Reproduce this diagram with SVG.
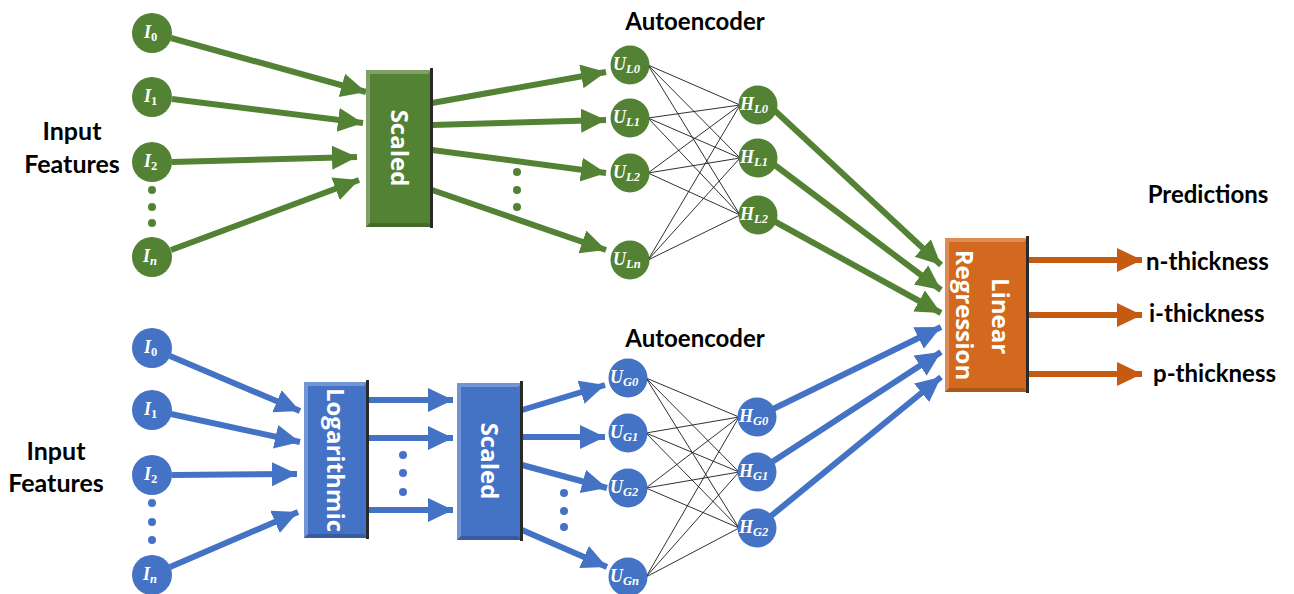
<svg xmlns="http://www.w3.org/2000/svg" width="1294" height="594" viewBox="0 0 1294 594">
  <style>
    .lbl { font-family: Lato, "Open Sans", "Liberation Sans", sans-serif; font-weight: bold; fill: #000; }
    .box-txt { font-family: "Open Sans", "Liberation Sans", sans-serif; font-weight: bold; fill: #fff; font-size: 24px; }
    .nd { font-family: "Liberation Serif", "DejaVu Serif", serif; font-weight: bold; font-style: italic; fill: #fff; font-size: 18px; }
    .nd tspan.s { font-size: 12.5px; }
    .nd tspan.u { font-style: normal; }
    .g { fill: #548235; }
    .b { fill: #4472C4; }
    .ga { stroke: #548235; stroke-width: 6; fill: none; marker-end: url(#ah-g); }
    .ba { stroke: #4472C4; stroke-width: 6; fill: none; marker-end: url(#ah-b); }
    .oa { stroke: #C55A11; stroke-width: 6; fill: none; marker-end: url(#ah-o); }
    .mesh { stroke: #1a1a1a; stroke-width: 0.9; fill: none; }
    .hi { fill: #ffffff; fill-opacity: 0.25; }
    .lo { fill: #000000; fill-opacity: 0.18; }
    .edge { fill: #2a2a2a; }
  </style>
  <defs>
    <marker id="ah-g" markerUnits="userSpaceOnUse" markerWidth="28" markerHeight="26" refX="25" refY="12" orient="auto">
      <path d="M0,0 L25,12 L0,24 Z" fill="#548235"/>
    </marker>
    <marker id="ah-b" markerUnits="userSpaceOnUse" markerWidth="28" markerHeight="26" refX="25" refY="12" orient="auto">
      <path d="M0,0 L25,12 L0,24 Z" fill="#4472C4"/>
    </marker>
    <marker id="ah-o" markerUnits="userSpaceOnUse" markerWidth="28" markerHeight="26" refX="25" refY="12" orient="auto">
      <path d="M0,0 L25,12 L0,24 Z" fill="#C55A11"/>
    </marker>
  </defs>

  <rect width="1294" height="594" fill="#ffffff"/>

  <!-- text labels -->
  <g id="labels">
    <text class="lbl" x="72" y="140" font-size="25" text-anchor="middle">Input</text>
    <text class="lbl" x="72" y="173" font-size="25" text-anchor="middle">Features</text>
    <text class="lbl" x="56" y="460" font-size="25" text-anchor="middle">Input</text>
    <text class="lbl" x="56" y="492" font-size="25" text-anchor="middle">Features</text>
    <text class="lbl" x="695" y="30" font-size="24" text-anchor="middle">Autoencoder</text>
    <text class="lbl" x="695" y="347" font-size="24" text-anchor="middle">Autoencoder</text>
    <text class="lbl" x="1208" y="203" font-size="24" text-anchor="middle">Predictions</text>
    <text class="lbl" x="1146" y="270" font-size="24">n-thickness</text>
    <text class="lbl" x="1149" y="322" font-size="24">i-thickness</text>
    <text class="lbl" x="1153" y="382" font-size="24">p-thickness</text>
  </g>

  <!-- connectors -->
  <g id="connectors">
    <!-- upper branch: inputs to Scaled -->
    <line class="ga" x1="171" y1="38" x2="366" y2="92"/>
    <line class="ga" x1="172" y1="99" x2="363" y2="123"/>
    <line class="ga" x1="172" y1="162" x2="357" y2="157"/>
    <line class="ga" x1="171" y1="250" x2="359" y2="180"/>
    <!-- Scaled to autoencoder inputs -->
    <line class="ga" x1="432" y1="103" x2="606" y2="72"/>
    <line class="ga" x1="432" y1="125" x2="606" y2="120"/>
    <line class="ga" x1="432" y1="150" x2="606" y2="173"/>
    <line class="ga" x1="432" y1="190" x2="606" y2="250"/>
    <!-- upper autoencoder weights -->
    <g class="mesh">
      <line x1="648" y1="65" x2="740" y2="105"/><line x1="648" y1="65" x2="740" y2="158"/><line x1="648" y1="65" x2="740" y2="215"/>
      <line x1="648" y1="118" x2="740" y2="105"/><line x1="648" y1="118" x2="740" y2="158"/><line x1="648" y1="118" x2="740" y2="215"/>
      <line x1="648" y1="173" x2="740" y2="105"/><line x1="648" y1="173" x2="740" y2="158"/><line x1="648" y1="173" x2="740" y2="215"/>
      <line x1="648" y1="260" x2="740" y2="105"/><line x1="648" y1="260" x2="740" y2="158"/><line x1="648" y1="260" x2="740" y2="215"/>
    </g>
    <!-- upper hidden to regression -->
    <line class="ga" x1="772" y1="108" x2="941" y2="265"/>
    <line class="ga" x1="772" y1="163" x2="941" y2="290"/>
    <line class="ga" x1="772" y1="220" x2="941" y2="313"/>

    <!-- lower branch: inputs to Logarithmic -->
    <line class="ba" x1="170" y1="356" x2="300" y2="411"/>
    <line class="ba" x1="171" y1="414" x2="300" y2="442"/>
    <line class="ba" x1="172" y1="475" x2="297" y2="474"/>
    <line class="ba" x1="170" y1="567" x2="298" y2="512"/>
    <!-- Logarithmic to Scaled -->
    <line class="ba" x1="368" y1="400" x2="453" y2="400"/>
    <line class="ba" x1="368" y1="438" x2="453" y2="438"/>
    <line class="ba" x1="368" y1="510" x2="453" y2="510"/>
    <!-- Scaled to autoencoder inputs -->
    <line class="ba" x1="522" y1="410" x2="605" y2="385"/>
    <line class="ba" x1="522" y1="437" x2="605" y2="437"/>
    <line class="ba" x1="522" y1="465" x2="607" y2="488"/>
    <line class="ba" x1="522" y1="530" x2="607" y2="567"/>
    <!-- lower autoencoder weights -->
    <g class="mesh">
      <line x1="646" y1="378" x2="739" y2="417"/><line x1="646" y1="378" x2="739" y2="472"/><line x1="646" y1="378" x2="739" y2="528"/>
      <line x1="646" y1="433" x2="739" y2="417"/><line x1="646" y1="433" x2="739" y2="472"/><line x1="646" y1="433" x2="739" y2="528"/>
      <line x1="646" y1="488" x2="739" y2="417"/><line x1="646" y1="488" x2="739" y2="472"/><line x1="646" y1="488" x2="739" y2="528"/>
      <line x1="646" y1="577" x2="739" y2="417"/><line x1="646" y1="577" x2="739" y2="472"/><line x1="646" y1="577" x2="739" y2="528"/>
    </g>
    <!-- lower hidden to regression -->
    <line class="ba" x1="773" y1="409" x2="941" y2="327"/>
    <line class="ba" x1="772" y1="462" x2="941" y2="352"/>
    <line class="ba" x1="771" y1="516" x2="941" y2="377"/>

    <!-- regression outputs -->
    <line class="oa" x1="1028" y1="260" x2="1142" y2="260"/>
    <line class="oa" x1="1028" y1="315" x2="1142" y2="315"/>
    <line class="oa" x1="1028" y1="374" x2="1142" y2="374"/>
  </g>

  <!-- ellipsis dots -->
  <g id="dots">
    <circle class="g" cx="152" cy="190" r="4"/><circle class="g" cx="152" cy="207" r="4"/><circle class="g" cx="152" cy="223" r="4"/>
    <circle class="g" cx="517" cy="172" r="4"/><circle class="g" cx="517" cy="190" r="4"/><circle class="g" cx="517" cy="207" r="4"/>
    <circle class="b" cx="152" cy="503" r="4"/><circle class="b" cx="152" cy="522" r="4"/><circle class="b" cx="152" cy="540" r="4"/>
    <circle class="b" cx="403" cy="455" r="4"/><circle class="b" cx="403" cy="473" r="4"/><circle class="b" cx="403" cy="492" r="4"/>
    <circle class="b" cx="564" cy="493" r="4"/><circle class="b" cx="564" cy="511" r="4"/><circle class="b" cx="564" cy="527" r="4"/>
  </g>

  <!-- upper input nodes -->
  <g id="gI0"><circle class="g" cx="152" cy="33" r="20"/><text class="nd" x="144" y="38">I<tspan class="s u" dy="3">0</tspan></text></g>
  <g id="gI1"><circle class="g" cx="152" cy="97" r="20"/><text class="nd" x="144" y="102">I<tspan class="s u" dy="3">1</tspan></text></g>
  <g id="gI2"><circle class="g" cx="152" cy="162" r="20"/><text class="nd" x="144" y="167">I<tspan class="s u" dy="3">2</tspan></text></g>
  <g id="gIn"><circle class="g" cx="152" cy="257" r="20"/><text class="nd" x="143" y="262">I<tspan class="s" dy="3">n</tspan></text></g>

  <!-- upper Scaled block -->
  <g id="scaled-top">
    <rect x="366" y="70" width="66" height="157" fill="#548235"/>
    <polygon class="hi" points="366,70 432,70 428,74 370,74"/>
    <polygon class="hi" points="366,70 370,74 370,223 366,227"/>
    <polygon class="lo" points="366,227 370,223 428,223 432,227"/>
    <rect class="edge" x="430" y="68" width="3" height="160"/>
    <text class="box-txt" transform="translate(399,148) rotate(90)" text-anchor="middle" dy="8">Scaled</text>
  </g>

  <!-- upper autoencoder input nodes -->
  <g id="gUL0"><circle class="g" cx="630" cy="65" r="19.5"/><text class="nd" x="613" y="70">U<tspan class="s" dy="3">L0</tspan></text></g>
  <g id="gUL1"><circle class="g" cx="630" cy="118" r="19.5"/><text class="nd" x="613" y="123">U<tspan class="s" dy="3">L1</tspan></text></g>
  <g id="gUL2"><circle class="g" cx="630" cy="173" r="19.5"/><text class="nd" x="613" y="178">U<tspan class="s" dy="3">L2</tspan></text></g>
  <g id="gULn"><circle class="g" cx="630" cy="260" r="19.5"/><text class="nd" x="613" y="265">U<tspan class="s" dy="3">Ln</tspan></text></g>

  <!-- upper hidden nodes -->
  <g id="gHL0"><circle class="g" cx="758" cy="105" r="19.5"/><text class="nd" x="740" y="110">H<tspan class="s" dy="3">L0</tspan></text></g>
  <g id="gHL1"><circle class="g" cx="758" cy="158" r="19.5"/><text class="nd" x="740" y="163">H<tspan class="s" dy="3">L1</tspan></text></g>
  <g id="gHL2"><circle class="g" cx="758" cy="215" r="19.5"/><text class="nd" x="740" y="220">H<tspan class="s" dy="3">L2</tspan></text></g>

  <!-- lower input nodes -->
  <g id="bI0"><circle class="b" cx="152" cy="348" r="20"/><text class="nd" x="144" y="353">I<tspan class="s u" dy="3">0</tspan></text></g>
  <g id="bI1"><circle class="b" cx="152" cy="410" r="20"/><text class="nd" x="144" y="415">I<tspan class="s u" dy="3">1</tspan></text></g>
  <g id="bI2"><circle class="b" cx="152" cy="475" r="20"/><text class="nd" x="144" y="480">I<tspan class="s u" dy="3">2</tspan></text></g>
  <g id="bIn"><circle class="b" cx="152" cy="575" r="20"/><text class="nd" x="143" y="580">I<tspan class="s" dy="3">n</tspan></text></g>

  <!-- Logarithmic block -->
  <g id="log">
    <rect x="304" y="382" width="64" height="156" fill="#4472C4"/>
    <polygon class="hi" points="304,382 368,382 364,386 308,386"/>
    <polygon class="hi" points="304,382 308,386 308,534 304,538"/>
    <polygon class="lo" points="304,538 308,534 364,534 368,538"/>
    <rect class="edge" x="366" y="380" width="3" height="159"/>
    <text class="box-txt" transform="translate(335,460) rotate(90)" text-anchor="middle" dy="8">Logarithmic</text>
  </g>

  <!-- lower Scaled block -->
  <g id="scaled-bottom">
    <rect x="457" y="383" width="65" height="157" fill="#4472C4"/>
    <polygon class="hi" points="457,383 522,383 518,387 461,387"/>
    <polygon class="hi" points="457,383 461,387 461,536 457,540"/>
    <polygon class="lo" points="457,540 461,536 518,536 522,540"/>
    <rect class="edge" x="520" y="381" width="3" height="160"/>
    <text class="box-txt" transform="translate(489,461) rotate(90)" text-anchor="middle" dy="8">Scaled</text>
  </g>

  <!-- lower autoencoder input nodes -->
  <g id="bUG0"><circle class="b" cx="628" cy="378" r="19.5"/><text class="nd" x="610" y="383">U<tspan class="s" dy="3">G0</tspan></text></g>
  <g id="bUG1"><circle class="b" cx="628" cy="433" r="19.5"/><text class="nd" x="610" y="438">U<tspan class="s" dy="3">G1</tspan></text></g>
  <g id="bUG2"><circle class="b" cx="628" cy="488" r="19.5"/><text class="nd" x="610" y="493">U<tspan class="s" dy="3">G2</tspan></text></g>
  <g id="bUGn"><circle class="b" cx="628" cy="577" r="19.5"/><text class="nd" x="610" y="582">U<tspan class="s" dy="3">Gn</tspan></text></g>

  <!-- lower hidden nodes -->
  <g id="bHG0"><circle class="b" cx="757" cy="417" r="19.5"/><text class="nd" x="739" y="422">H<tspan class="s" dy="3">G0</tspan></text></g>
  <g id="bHG1"><circle class="b" cx="757" cy="472" r="19.5"/><text class="nd" x="739" y="477">H<tspan class="s" dy="3">G1</tspan></text></g>
  <g id="bHG2"><circle class="b" cx="757" cy="528" r="19.5"/><text class="nd" x="739" y="533">H<tspan class="s" dy="3">G2</tspan></text></g>

  <!-- Linear Regression block -->
  <g id="linreg">
    <rect x="945" y="238" width="83" height="154" fill="#D2691E"/>
    <polygon class="hi" points="945,238 1028,238 1024,242 949,242"/>
    <polygon class="hi" points="945,238 949,242 949,388 945,392"/>
    <polygon class="lo" points="945,392 949,388 1024,388 1028,392"/>
    <rect class="edge" x="1026" y="236" width="3" height="157"/>
    <text class="box-txt" transform="translate(1000,316) rotate(90)" text-anchor="middle" dy="8">Linear</text>
    <text class="box-txt" transform="translate(964,315) rotate(90)" text-anchor="middle" dy="8">Regression</text>
  </g>
</svg>
